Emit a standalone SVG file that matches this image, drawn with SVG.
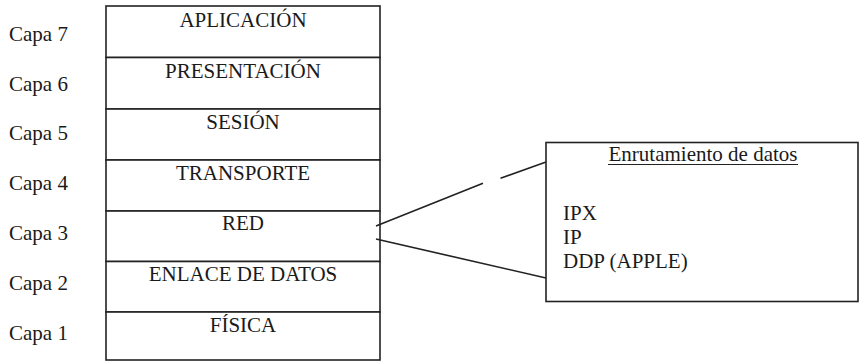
<svg xmlns="http://www.w3.org/2000/svg" width="860" height="361" viewBox="0 0 860 361">
<style>
.t{font-family:'Liberation Serif','Times New Roman','DejaVu Serif',serif;font-size:21px;fill:#1a1a1a}
.c{text-anchor:middle}
.b{fill:#fff;stroke:#222;stroke-width:1.6}
.ln{stroke:#222;stroke-width:1.6;fill:none}
</style>
<rect width="860" height="361" fill="#fff"/>
<g id="labels" font-family="Liberation Serif, serif">
<text class="t" x="9" y="41">Capa 7</text>
<text class="t" x="9" y="91">Capa 6</text>
<text class="t" x="9" y="140">Capa 5</text>
<text class="t" x="9" y="190">Capa 4</text>
<text class="t" x="9" y="240">Capa 3</text>
<text class="t" x="9" y="290">Capa 2</text>
<text class="t" x="9" y="340">Capa 1</text>
</g>
<g id="capa7"><rect class="b" x="106" y="6" width="274" height="51.5"/><text class="t c" x="243" y="27">APLICACIÓN</text></g>
<g id="capa6"><rect class="b" x="106" y="57.5" width="274" height="51.5"/><text class="t c" x="243" y="78">PRESENTACIÓN</text></g>
<g id="capa5"><rect class="b" x="106" y="109" width="274" height="51"/><text class="t c" x="243" y="129">SESIÓN</text></g>
<g id="capa4"><rect class="b" x="106" y="160" width="274" height="51"/><text class="t c" x="243" y="180">TRANSPORTE</text></g>
<g id="capa3"><rect class="b" x="106" y="211" width="274" height="50.5"/><text class="t c" x="243" y="230">RED</text></g>
<g id="capa2"><rect class="b" x="106" y="261.5" width="274" height="50.5"/><text class="t c" x="243" y="281">ENLACE DE DATOS</text></g>
<g id="capa1"><rect class="b" x="106" y="312" width="274" height="48"/><text class="t c" x="243" y="332">FÍSICA</text></g>
<g id="connectors">
<line class="ln" x1="376" y1="226" x2="483" y2="183.3"/>
<line class="ln" x1="500.5" y1="178.3" x2="546" y2="162"/>
<line class="ln" x1="376" y1="239" x2="546" y2="278"/>
</g>
<g id="enrutamiento">
<rect class="b" x="546" y="142.5" width="312" height="159"/>
<text class="t c" x="703" y="160.5">Enrutamiento de datos</text>
<line x1="608" y1="164.5" x2="798" y2="164.5" stroke="#222" stroke-width="1.2"/>
<text class="t" x="563" y="220">IPX</text>
<text class="t" x="563" y="244">IP</text>
<text class="t" x="563" y="268">DDP (APPLE)</text>
</g>
</svg>
